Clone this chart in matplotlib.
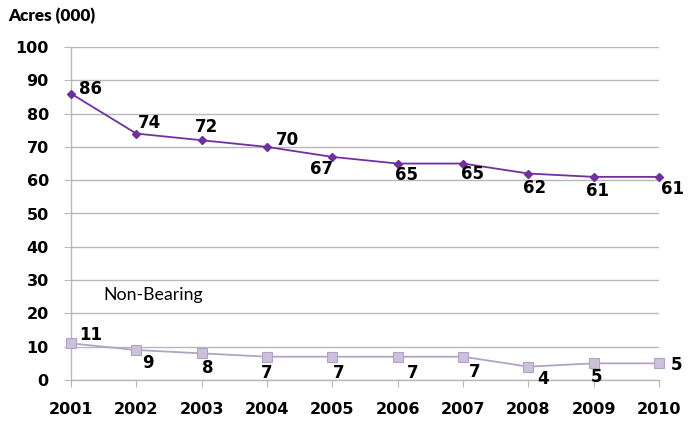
import matplotlib
matplotlib.use("Agg")
import matplotlib.pyplot as plt

years = ["2001", "2002", "2003", "2004", "2005", "2006", "2007", "2008", "2009", "2010"]
bearing = [86, 74, 72, 70, 67, 65, 65, 62, 61, 61]
non_bearing = [11, 9, 8, 7, 7, 7, 7, 4, 5, 5]
y_ticks = [0, 10, 20, 30, 40, 50, 60, 70, 80, 90, 100]

# label offsets in pixels (dx, dy with dy positive = downward)
bearing_offsets = [(19, -5), (13, -11), (5, -13), (20, -7), (-11, 12),
                   (9, 11), (9, 10), (6, 14), (4, 14), (14, 12)]
non_bearing_offsets = [(20, -8), (12, 13), (6, 15), (0, 16), (6, 16),
                       (15, 16), (12, 15), (15, 12), (3, 14), (18, 2)]

W, H = 688, 423
fig = plt.figure(figsize=(W / 100, H / 100), dpi=100)
ax = fig.add_axes([71 / W, (H - 380) / H, (659 - 71) / W, (380 - 47) / H])

x = list(range(len(years)))
ax.plot(x, bearing, color="#7030A0", lw=1.3, marker="D", ms=4.2,
        mfc="#7030A0", mec="#7030A0", zorder=3, clip_on=False)
ax.plot(x, non_bearing, color="#B3A2C7", lw=1.3, marker="s", ms=7,
        mfc="#CCC1DA", mec="#B3A2C7", mew=0.8, zorder=3, clip_on=False)

label_font = dict(fontsize=12, fontweight="bold", family="DejaVu Sans", color="black")
for xi, v, (dx, dy) in zip(x, bearing, bearing_offsets):
    ax.annotate(str(v), (xi, v), xytext=(dx, -dy), textcoords="offset pixels",
                ha="center", va="center", annotation_clip=False, **label_font)
for xi, v, (dx, dy) in zip(x, non_bearing, non_bearing_offsets):
    ax.annotate(str(v), (xi, v), xytext=(dx, -dy), textcoords="offset pixels",
                ha="center", va="center", annotation_clip=False, **label_font)

ax.text(0.5, 25.5, "Non-Bearing", fontsize=12.8, family="Lato",
        ha="left", va="center", color="black")

ax.set_xlim(0, len(years) - 1)
ax.set_ylim(0, 100)
ax.set_xticks(x)
ax.set_xticklabels(years)
ax.set_yticks(y_ticks)
ax.set_yticklabels([str(t) for t in y_ticks])

grid_c = "#B8B8B8"
ax.grid(axis="y", color=grid_c, lw=1.0)
ax.set_axisbelow(True)
for s in ["top", "right"]:
    ax.spines[s].set_visible(False)
ax.spines["left"].set_color(grid_c)
ax.spines["bottom"].set_color(grid_c)
ax.spines["left"].set_linewidth(1.0)
ax.spines["bottom"].set_linewidth(1.0)

ax.tick_params(axis="y", length=5, color=grid_c, pad=11, labelsize=11.5)
ax.tick_params(axis="x", length=5, color=grid_c, pad=11, labelsize=11.5)
for lbl in ax.get_xticklabels() + ax.get_yticklabels():
    lbl.set_fontweight("bold")
    lbl.set_family("DejaVu Sans")

fig.text(8 / W, 1 - 16 / H, "Acres (000)", fontsize=12.3, fontweight="heavy",
         family="Lato", ha="left", va="center")

fig.savefig("out.png", dpi=100)
